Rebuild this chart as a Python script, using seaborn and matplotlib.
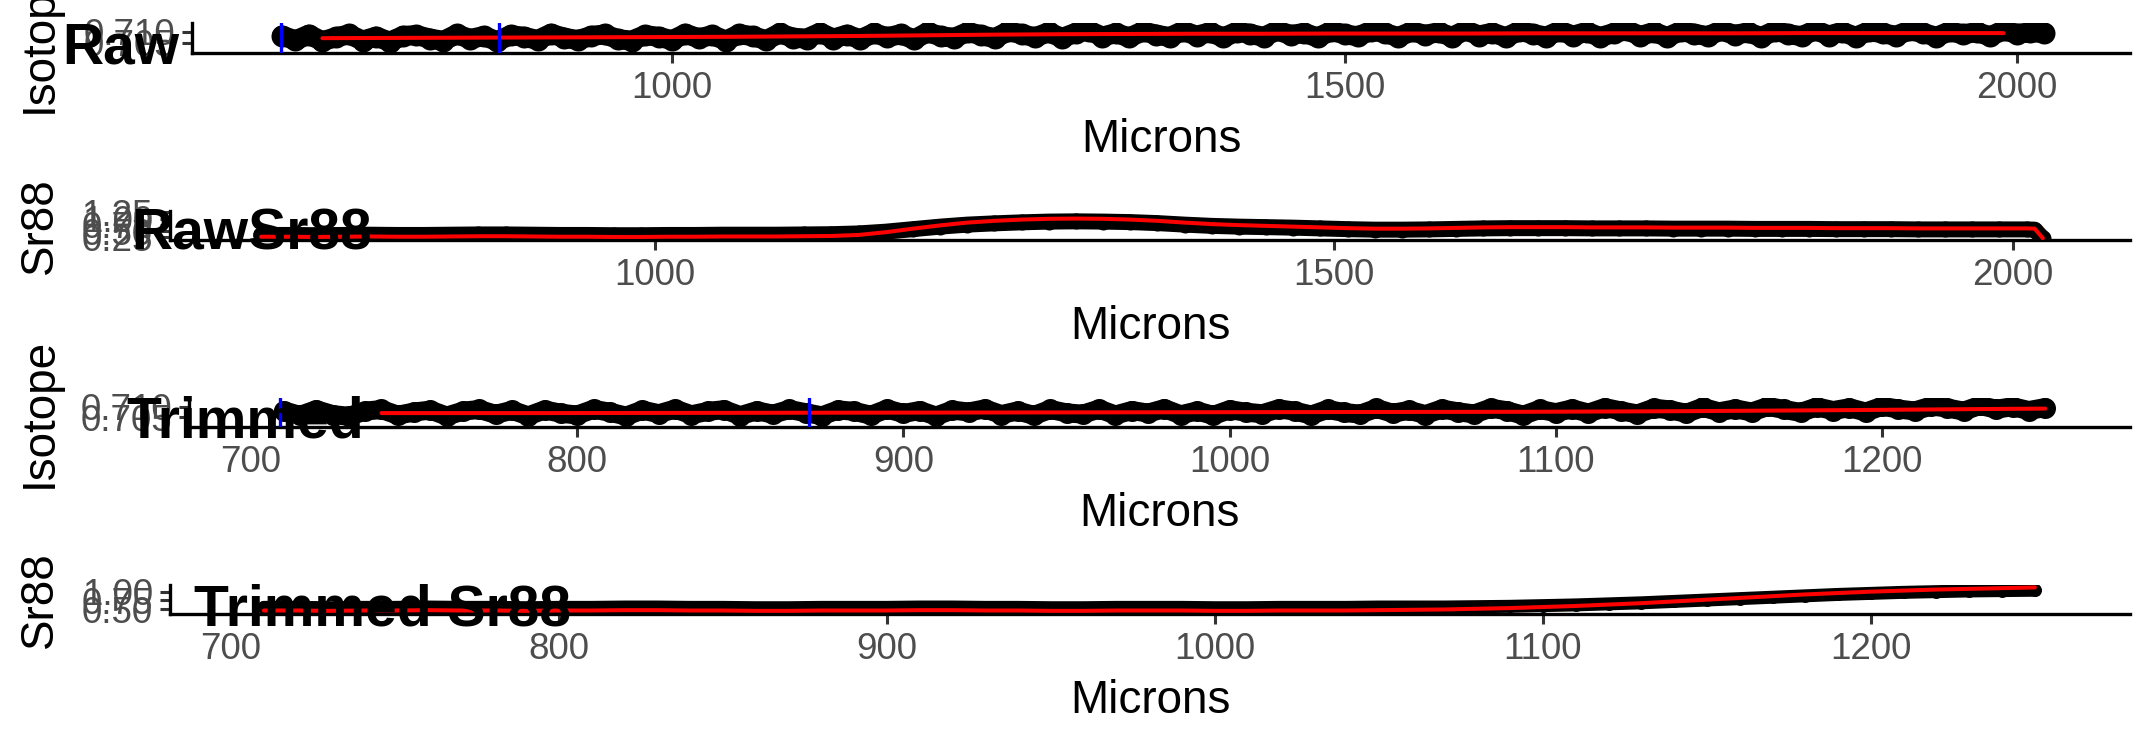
import matplotlib
matplotlib.use("Agg")
import matplotlib.pyplot as plt
import seaborn as sns
import numpy as np
import pandas as pd

# ---------------- data ----------------
# Raw isotope ratio (black points) on a 10 micron grid
raw_iso_x = np.arange(710, 2021, 10)
raw_iso = [
    0.7084, 0.7062, 0.7088, 0.7058, 0.7076, 0.7089, 0.7061, 0.7079, 0.7056, 0.7082,
    0.7086, 0.7070, 0.7060, 0.7090, 0.7068, 0.7082, 0.7058, 0.7086, 0.7078, 0.7064,
    0.7092, 0.7074, 0.7063, 0.7082, 0.7089, 0.7067, 0.7061, 0.7086, 0.7078, 0.7063,
    0.7092, 0.7071, 0.7086, 0.7061, 0.7090, 0.7081, 0.7063, 0.7094, 0.7074, 0.7070,
    0.7097, 0.7070, 0.7088, 0.7067, 0.7095, 0.7076, 0.7090, 0.7066, 0.7099, 0.7080,
    0.7074, 0.7100, 0.7085, 0.7072, 0.7103, 0.7090, 0.7076, 0.7099, 0.7073, 0.7096,
    0.7106, 0.7079, 0.7095, 0.7075, 0.7103, 0.7088, 0.7077, 0.7105, 0.7083, 0.7099,
    0.7075, 0.7102, 0.7091, 0.7078, 0.7107, 0.7086, 0.7096, 0.7075, 0.7104, 0.7090,
    0.7080, 0.7106, 0.7095, 0.7077, 0.7103, 0.7087, 0.7099, 0.7078, 0.7108, 0.7084,
    0.7097, 0.7076, 0.7105, 0.7091, 0.7079, 0.7106, 0.7083, 0.7101, 0.7077, 0.7095,
    0.7108, 0.7082, 0.7100, 0.7077, 0.7104, 0.7092, 0.7081, 0.7107, 0.7087, 0.7098,
    0.7077, 0.7106, 0.7090, 0.7081, 0.7109, 0.7084, 0.7101, 0.7078, 0.7104, 0.7094,
    0.7083, 0.7107, 0.7096, 0.7078, 0.7103, 0.7089, 0.7100, 0.7080, 0.7108, 0.7091,
    0.7099, 0.7095,
]
# smoothed raw isotope (red line)
raw_iso_smooth_x = [740, 790, 840, 890, 940, 990, 1040, 1090, 1140, 1190, 1240, 1290, 1340,
                    1390, 1440, 1490, 1540, 1590, 1640, 1690, 1740, 1790, 1840, 1890, 1940, 1990]
raw_iso_smooth = [0.7072, 0.7073, 0.7074, 0.7075, 0.7076, 0.7077, 0.7078, 0.7080, 0.7082,
                  0.7085, 0.7088, 0.7090, 0.7091, 0.7092, 0.7092, 0.7093, 0.7093, 0.7093,
                  0.7094, 0.7094, 0.7094, 0.7094, 0.7095, 0.7095, 0.7095, 0.7095]

# Raw Sr88
raw_sr_x = [710, 730, 750, 770, 790, 810, 830, 850, 870, 890, 910, 930, 950, 970, 990,
            1010, 1030, 1050, 1070, 1090, 1110, 1130, 1150, 1170, 1190, 1210, 1230, 1250,
            1270, 1290, 1310, 1330, 1350, 1370, 1390, 1410, 1430, 1450, 1470, 1490, 1510,
            1530, 1550, 1570, 1590, 1610, 1630, 1650, 1670, 1690, 1710, 1730, 1750, 1770,
            1790, 1810, 1830, 1850, 1870, 1890, 1910, 1930, 1950, 1970, 1990, 2010, 2016, 2022]
raw_sr = [0.35, 0.35, 0.34, 0.35, 0.36, 0.35, 0.35, 0.36, 0.37, 0.37, 0.36, 0.35, 0.35, 0.34,
          0.34, 0.35, 0.35, 0.36, 0.36, 0.36, 0.37, 0.38, 0.41, 0.48, 0.58, 0.68, 0.76, 0.81,
          0.85, 0.88, 0.89, 0.88, 0.86, 0.82, 0.76, 0.71, 0.68, 0.66, 0.64, 0.61, 0.58, 0.56,
          0.56, 0.57, 0.59, 0.61, 0.62, 0.62, 0.62, 0.61, 0.61, 0.61, 0.60, 0.60, 0.60, 0.59,
          0.59, 0.59, 0.58, 0.58, 0.58, 0.57, 0.57, 0.57, 0.57, 0.57, 0.56, 0.22]
raw_sr_smooth = [0.28, 0.28, 0.27, 0.28, 0.29, 0.28, 0.28, 0.29, 0.30, 0.30, 0.29, 0.28, 0.28,
                 0.27, 0.27, 0.28, 0.28, 0.29, 0.29, 0.29, 0.30, 0.31, 0.35, 0.46, 0.60, 0.73,
                 0.84, 0.91, 0.96, 0.99, 1.00, 0.99, 0.96, 0.91, 0.84, 0.78, 0.74, 0.71, 0.68,
                 0.65, 0.62, 0.60, 0.60, 0.61, 0.63, 0.65, 0.66, 0.66, 0.66, 0.65, 0.65, 0.65,
                 0.64, 0.64, 0.64, 0.63, 0.63, 0.63, 0.62, 0.62, 0.62, 0.61, 0.61, 0.61, 0.61,
                 0.61, 0.60, 0.22]

# Trimmed isotope ratio on a 5 micron grid
trim_iso_x = np.arange(710, 1251, 5)
trim_iso = [
    0.7081, 0.7059, 0.7086, 0.7063, 0.7055, 0.7079, 0.7087, 0.7060, 0.7075, 0.7084,
    0.7056, 0.7079, 0.7087, 0.7064, 0.7083, 0.7057, 0.7085, 0.7069, 0.7061, 0.7088,
    0.7074, 0.7056, 0.7084, 0.7067, 0.7089, 0.7062, 0.7078, 0.7086, 0.7058, 0.7081,
    0.7065, 0.7087, 0.7072, 0.7057, 0.7085, 0.7078, 0.7060, 0.7089, 0.7068, 0.7082,
    0.7056, 0.7084, 0.7075, 0.7090, 0.7063, 0.7080, 0.7059, 0.7087, 0.7071, 0.7065,
    0.7089, 0.7061, 0.7082, 0.7070, 0.7091, 0.7062, 0.7080, 0.7059, 0.7086, 0.7074,
    0.7067, 0.7090, 0.7079, 0.7061, 0.7087, 0.7073, 0.7065, 0.7092, 0.7069, 0.7083,
    0.7063, 0.7089, 0.7076, 0.7066, 0.7093, 0.7081, 0.7060, 0.7087, 0.7072, 0.7090,
    0.7070, 0.7096, 0.7080, 0.7066, 0.7093, 0.7085, 0.7069, 0.7097, 0.7076, 0.7090,
    0.7075, 0.7101, 0.7087, 0.7073, 0.7099, 0.7082, 0.7095, 0.7075, 0.7102, 0.7089,
    0.7080, 0.7103, 0.7094, 0.7079, 0.7106, 0.7088, 0.7100, 0.7082, 0.7096,
]
trim_iso_smooth_x = [740, 790, 840, 890, 940, 990, 1040, 1090, 1140, 1190, 1240, 1250]
trim_iso_smooth = [0.7070, 0.7070, 0.7071, 0.7072, 0.7073, 0.7074, 0.7075, 0.7076,
                   0.7079, 0.7084, 0.7090, 0.7091]

# Trimmed Sr88 on a 10 micron grid
trim_sr_x = np.arange(710, 1251, 10)
trim_sr = [0.55, 0.55, 0.54, 0.55, 0.55, 0.56, 0.55, 0.55, 0.54, 0.55, 0.55, 0.56, 0.56, 0.55,
           0.55, 0.54, 0.54, 0.55, 0.55, 0.55, 0.56, 0.56, 0.55, 0.55, 0.54, 0.54, 0.55, 0.55,
           0.55, 0.54, 0.54, 0.55, 0.55, 0.55, 0.56, 0.56, 0.56, 0.57, 0.58, 0.60, 0.62, 0.65,
           0.68, 0.72, 0.76, 0.80, 0.84, 0.88, 0.92, 0.95, 0.98, 1.00, 1.02, 1.03, 1.04]
trim_sr_smooth = [0.46, 0.46, 0.45, 0.46, 0.46, 0.47, 0.46, 0.46, 0.45, 0.46, 0.46, 0.47, 0.47,
                  0.46, 0.46, 0.45, 0.45, 0.46, 0.46, 0.46, 0.47, 0.47, 0.46, 0.46, 0.45, 0.45,
                  0.46, 0.46, 0.46, 0.45, 0.45, 0.46, 0.46, 0.46, 0.47, 0.48, 0.49, 0.51, 0.53,
                  0.56, 0.59, 0.63, 0.67, 0.72, 0.77, 0.82, 0.87, 0.92, 0.96, 1.00, 1.03, 1.06,
                  1.08, 1.10, 1.12]

# integration window markers (blue lines)
window_marks = [709, 871]

titles = ["Raw", "RawSr88", "Trimmed", "Trimmed Sr88"]
ylabels = ["Isotope", "Sr88", "Isotope", "Sr88"]

# ---------------- style ----------------
sns.set_style("white")
plt.rcParams['font.family'] = ['Liberation Sans', 'DejaVu Sans']

W, H = 2154, 749
fig = plt.figure(figsize=(W / 100, H / 100), dpi=100)

# layout in pixels: left, right, bottom(from top), height, title x, title baseline
layout = [
    (192, 2130, 53, 30, 62, 63),
    (170, 2130, 240, 29, 131, 250),
    (189, 2130, 427, 29, 126, 438),
    (170, 2130, 614, 29, 194, 625),
]
xlims = [(643.1, 2084.0), (642.9, 2086.2), (681.0, 1276.0), (681.4, 1279.0)]
ylims = [(0.70045, 0.71409), (0.15, 1.30), (0.70045, 0.71409), (0.36, 1.19)]
xticks = [[1000, 1500, 2000], [1000, 1500, 2000],
          [700, 800, 900, 1000, 1100, 1200], [700, 800, 900, 1000, 1100, 1200]]
yticks = [[0.705, 0.710], [0.25, 0.50, 0.75, 1.00, 1.25],
          [0.705, 0.710], [0.50, 0.75, 1.00]]
yticklabels = [["0.705", "0.710"], ["0.25", "0.50", "0.75", "1.00", "1.25"],
               ["0.705", "0.710"], ["0.50", "0.75", "1.00"]]

# x, y, smooth x, smooth y, point diameter (px), band line width (px), blue marks
series = [
    (raw_iso_x, raw_iso, raw_iso_smooth_x, raw_iso_smooth, 22, 20, True),
    (raw_sr_x, raw_sr, raw_sr_x, raw_sr_smooth, 16, 16, False),
    (trim_iso_x, trim_iso, trim_iso_smooth_x, trim_iso_smooth, 21, 19, True),
    (trim_sr_x, trim_sr, trim_sr_x, trim_sr_smooth, 13, 13, False),
]

for i in range(4):
    left, right, bottom, height, tx, tb = layout[i]
    ax = fig.add_axes([left / W, (H - bottom) / H, (right - left) / W, height / H])
    ax.set_facecolor('none')
    x, y, sx, sy, dot, band, blue = series[i]
    df = pd.DataFrame({'Microns': x, 'value': y})
    sm = pd.DataFrame({'Microns': sx, 'value': sy})

    # dense points -> thick black band
    sns.lineplot(data=df, x='Microns', y='value', ax=ax, color='black',
                 linewidth=band * 0.72, solid_capstyle='round', solid_joinstyle='round',
                 zorder=1, legend=False)
    sns.scatterplot(data=df, x='Microns', y='value', ax=ax, color='black',
                    s=(dot * 0.72) ** 2, linewidth=0, zorder=2, legend=False)
    sns.lineplot(data=sm, x='Microns', y='value', ax=ax, color='red',
                 linewidth=2.9, zorder=3, legend=False)
    if blue:
        for m in window_marks:
            ax.axvline(m, color='blue', linewidth=2.4, zorder=4)

    ax.set_xlim(*xlims[i])
    ax.set_ylim(*ylims[i])
    ax.set_xticks(xticks[i])
    ax.set_xticklabels([str(t) for t in xticks[i]])
    ax.set_yticks(yticks[i])
    ax.set_yticklabels(yticklabels[i])
    ax.grid(False)

    for s in ['top', 'right']:
        ax.spines[s].set_visible(False)
    for s in ['left', 'bottom']:
        ax.spines[s].set_color('black')
        ax.spines[s].set_linewidth(2.4)

    ax.tick_params(axis='both', length=7.2, width=2.2, color='#333333',
                   labelcolor='#4D4D4D', labelsize=26.5, left=True, bottom=True)
    ax.tick_params(axis='x', pad=6.0)
    ax.tick_params(axis='y', pad=5)

    ax.set_xlabel('Microns', fontsize=33, color='black', va='center')
    ax.xaxis.set_label_coords((left + right) / 2 / W, (H - (bottom + 87)) / H,
                              transform=fig.transFigure)
    ax.set_ylabel(ylabels[i], fontsize=33, color='black', va='center')
    ax.yaxis.set_label_coords(40 / W, (H - (bottom - height / 2)) / H,
                              transform=fig.transFigure)

    fig.text(tx / W, (H - tb) / H, titles[i], fontsize=41, fontweight='bold',
             ha='left', va='baseline', color='black', zorder=10)

fig.savefig('out.png', dpi=100)
